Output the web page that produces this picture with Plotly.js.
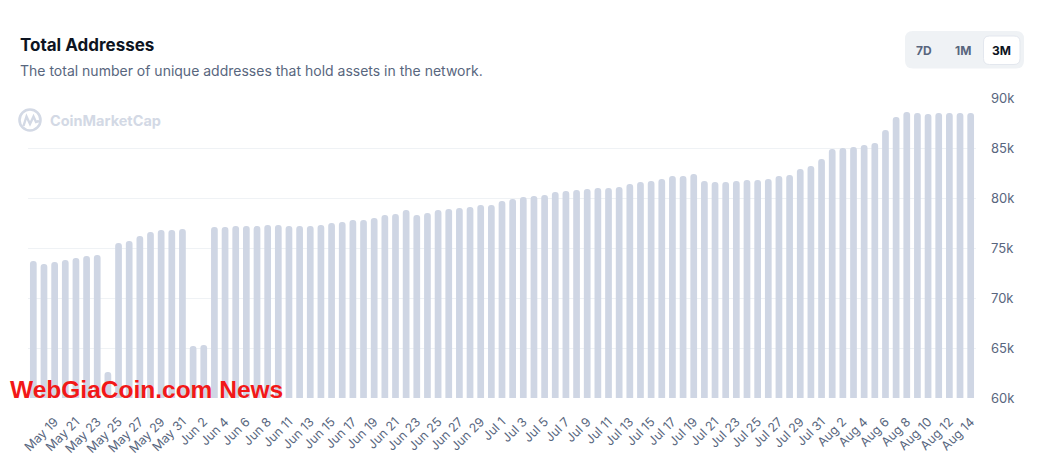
<!DOCTYPE html>
<html>
<head>
<meta charset="utf-8">
<script src="https://cdn.plot.ly/plotly-3.0.1.min.js"></script>
<style>html,body{margin:0;padding:0;background:#fff;}#chart{width:1052px;height:469px;}</style>
</head>
<body>
<div id="chart"></div>
<script>
// ---- data ----
const dates = [
  "May 17","May 18","May 19","May 20","May 21","May 22","May 23","May 24","May 25","May 26",
  "May 27","May 28","May 29","May 30","May 31",
  "Jun 1","Jun 2","Jun 3","Jun 4","Jun 5","Jun 6","Jun 7","Jun 8","Jun 10","Jun 11",
  "Jun 12","Jun 13","Jun 14","Jun 15","Jun 16","Jun 17","Jun 18","Jun 19","Jun 20","Jun 21",
  "Jun 22","Jun 23","Jun 24","Jun 25","Jun 26","Jun 27","Jun 28","Jun 29","Jun 30",
  "Jul 1","Jul 2","Jul 3","Jul 4","Jul 5","Jul 6","Jul 7","Jul 8","Jul 9","Jul 10",
  "Jul 11","Jul 12","Jul 13","Jul 14","Jul 15","Jul 16","Jul 17","Jul 18","Jul 19","Jul 20",
  "Jul 21","Jul 22","Jul 23","Jul 24","Jul 25","Jul 26","Jul 27","Jul 28","Jul 29","Jul 30","Jul 31",
  "Aug 1","Aug 2","Aug 3","Aug 4","Aug 5","Aug 6","Aug 7","Aug 8","Aug 9","Aug 10",
  "Aug 11","Aug 12","Aug 13","Aug 14"
];
const totalAddresses = [
  73700,73400,73600,73800,74000,74200,74300,62600,75500,75700,
  76200,76600,76800,76800,76900,
  65200,65300,77100,77100,77200,77200,77200,77300,77300,77200,
  77200,77200,77300,77500,77600,77800,77800,78000,78300,78400,
  78800,78300,78500,78800,78900,79000,79100,79300,79300,
  79700,79900,80100,80200,80300,80600,80700,80800,80900,81000,
  81000,81100,81400,81600,81700,81900,82200,82200,82400,81700,
  81600,81600,81700,81800,81800,81900,82200,82300,82900,83200,83900,
  84900,85000,85100,85300,85500,86800,88100,88600,88500,88400,
  88500,88500,88500,88500
];
const xTickLabels = dates.filter((d, i) => i % 2 === 0 && i > 0);
const yTickVals = [60000, 65000, 70000, 75000, 80000, 85000, 90000];
const yTickText = ["60k", "65k", "70k", "75k", "80k", "85k", "90k"];
const rangeButtons = ["7D", "1M", "3M"];

// ---- layout helpers (pixel -> paper) ----
const L = 28, R = 976, T = 98, B = 398;
const px = x => (x - L) / (R - L);
const py = y => (B - y) / (B - T);
function rr(x0, y0, x1, y1, r) {
  const X = px, Y = py;
  return `M ${X(x0 + r)} ${Y(y0)} L ${X(x1 - r)} ${Y(y0)} Q ${X(x1)} ${Y(y0)} ${X(x1)} ${Y(y0 + r)} ` +
         `L ${X(x1)} ${Y(y1 - r)} Q ${X(x1)} ${Y(y1)} ${X(x1 - r)} ${Y(y1)} ` +
         `L ${X(x0 + r)} ${Y(y1)} Q ${X(x0)} ${Y(y1)} ${X(x0)} ${Y(y1 - r)} ` +
         `L ${X(x0)} ${Y(y0 + r)} Q ${X(x0)} ${Y(y0)} ${X(x0 + r)} ${Y(y0)} Z`;
}
const FONT = "Inter, 'Noto Sans', sans-serif";
const GREY = "#58667e";

const trace = {
  type: "bar",
  x: dates,
  y: totalAddresses,
  marker: { color: "#cfd6e4", cornerradius: "50%", line: { width: 0 } },
  hoverinfo: "x+y"
};

const annotations = [
  { text: "<b>Total Addresses</b>", x: px(18), y: py(44.5), xref: "paper", yref: "paper",
    xanchor: "left", yanchor: "middle", showarrow: false, font: { family: FONT, size: 17, color: "#0d1421" } },
  { text: "The total number of unique addresses that hold assets in the network.", x: px(18), y: py(70), xref: "paper", yref: "paper",
    xanchor: "left", yanchor: "middle", showarrow: false, font: { family: FONT, size: 14, color: GREY } },
  { text: "<b>CoinMarketCap</b>", x: px(48), y: py(120.5), xref: "paper", yref: "paper",
    xanchor: "left", yanchor: "middle", showarrow: false, font: { family: FONT, size: 14.5, color: "#d3d9e5" } },
  { text: "<b>WebGiaCoin.com News</b>", x: px(8), y: py(389), xref: "paper", yref: "paper",
    xanchor: "left", yanchor: "middle", showarrow: false, font: { family: "'Liberation Sans', Arial, sans-serif", size: 24.5, color: "#f21818" } }
];
const btnX = [924, 963, 1001.5];
rangeButtons.forEach((b, i) => {
  annotations.push({ text: "<b>" + b + "</b>", x: px(btnX[i]), y: py(50), xref: "paper", yref: "paper",
    xanchor: "center", yanchor: "middle", showarrow: false,
    font: { family: FONT, size: 12, color: i === 2 ? "#0d1421" : GREY } });
});

const shapes = [
  { type: "path", xref: "paper", yref: "paper", path: rr(905, 31, 1024, 68.5, 8), fillcolor: "#eff2f5", line: { width: 0 }, layer: "above" },
  { type: "path", xref: "paper", yref: "paper", path: rr(983.5, 36, 1020, 64.5, 6), fillcolor: "#ffffff", line: { width: 1, color: "#e3e7ee" }, layer: "above" },
  { type: "circle", xref: "paper", yref: "paper", x0: px(19.5), x1: px(40.5), y0: py(109.5), y1: py(130.5),
    line: { color: "#d3d9e5", width: 2.6 }, layer: "above" },
  { type: "path", xref: "paper", yref: "paper", layer: "above", line: { color: "#d3d9e5", width: 2.4 },
    path: `M ${px(23.5)} ${py(126)} L ${px(26.5)} ${py(116.5)} L ${px(30)} ${py(124)} L ${px(33.5)} ${py(116.5)} L ${px(36)} ${py(122)} L ${px(39)} ${py(121)}` }
];

const layout = {
  width: 1052, height: 469,
  margin: { l: L, r: 1052 - R, t: T, b: 469 - B, pad: 0 },
  paper_bgcolor: "#ffffff", plot_bgcolor: "#ffffff",
  showlegend: false,
  bargap: 0.37,
  xaxis: {
    type: "category", tickmode: "array", tickvals: xTickLabels, ticktext: xTickLabels,
    tickangle: -45, tickfont: { family: FONT, size: 12.5, color: GREY },
    showgrid: false, showline: false, zeroline: false, ticks: "", ticklabelstandoff: 13, fixedrange: true
  },
  yaxis: {
    side: "right", range: [60000, 90000], tickmode: "array", tickvals: yTickVals, ticktext: yTickText,
    tickfont: { family: FONT, size: 13, color: GREY }, gridcolor: "#eff2f5", gridwidth: 1,
    showline: false, zeroline: false, ticks: "", ticklabelstandoff: 14, fixedrange: true
  },
  annotations: annotations,
  shapes: shapes
};

Plotly.newPlot("chart", [trace], layout, { displayModeBar: false, staticPlot: true });
</script>
</body>
</html>
